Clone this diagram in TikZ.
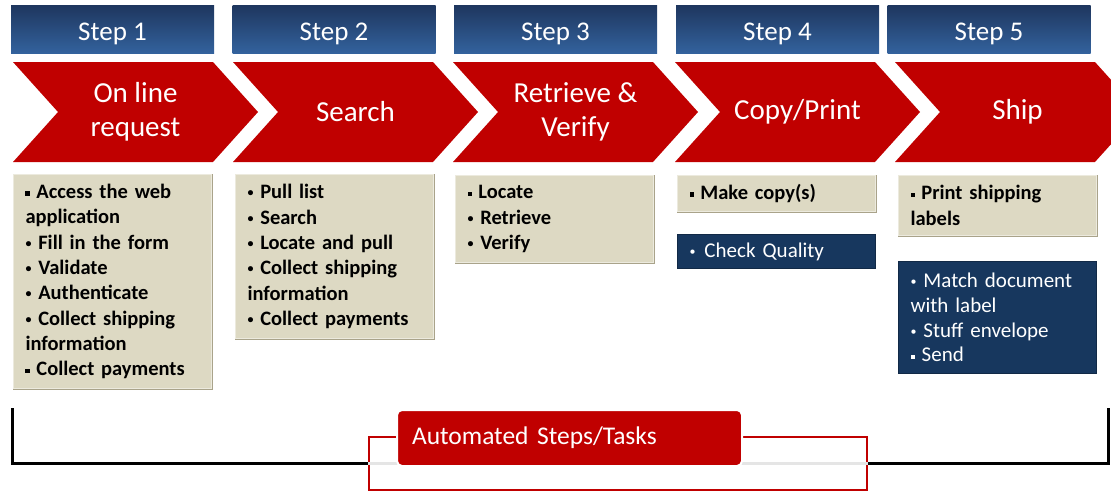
\documentclass[tikz,border=0pt]{standalone}
\usepackage{fontspec}
\setmainfont{Carlito}
\usetikzlibrary{shapes.symbols,positioning}
\definecolor{stepred}{HTML}{C00000}
\definecolor{headtop}{HTML}{1E365E}
\definecolor{headbot}{HTML}{33629D}
\definecolor{taskbeige}{HTML}{DDD9C3}
\definecolor{beigeedge}{HTML}{A9A38A}
\definecolor{tasknavy}{HTML}{17375E}
\newcommand{\fs}[2]{\fontsize{#1}{#2}\selectfont}
\newcommand{\sqbul}{\raisebox{0.3ex}{\rule{0.2em}{0.2em}}}
\newcommand{\rdbul}{\raisebox{0.2ex}{\fs{12}{12}\textbullet}}

\begin{document}
\begin{tikzpicture}[x=1pt,y=-1pt,
    stephead/.style={minimum width=203pt,minimum height=48pt,inner sep=0pt,
        text height=22pt,text depth=0pt,
        top color=headtop,bottom color=headbot,text=white,font=\fs{27}{32}},
    chevron/.style={shape=signal,signal to=east,signal from=west,
        signal pointer angle=96,fill=stepred,minimum width=245pt,
        minimum height=100pt,inner sep=0pt,text=white,align=center,
        font=\fs{29}{34}},
    boxbase/.style={anchor=north west,text width=174pt,inner xsep=12pt,
        inner ysep=0pt,align=left},
    taskbox/.style={boxbase,fill=taskbeige,draw=taskbeige!55!white,line width=1pt,
        font=\bfseries\fs{20.5}{25.3},
        append after command={\pgfextra{\draw[beigeedge,line width=2.5pt]
            (\tikzlastnode.south west) -- (\tikzlastnode.south east)
            -- (\tikzlastnode.north east);}}},
    navybox/.style={boxbase,fill=tasknavy,draw=tasknavy!75!black,line width=1pt,
        text=white,font=\fs{21}{24.8}},
    bracket/.style={draw=black,line width=3pt},
    autoframe/.style={draw=stepred,line width=2.5pt,minimum width=498pt,
        minimum height=53pt,inner sep=0pt},
    autobox/.style={fill=stepred,draw=white,line width=2pt,rounded corners=5pt,
        minimum width=345pt,minimum height=56pt,text width=315pt,
        inner xsep=15pt,align=left,text=white,font=\fs{25.5}{30}}]
    \useasboundingbox (0,0) rectangle (1111,493);

    % step headers
    \node[stephead] (hd1) at (112.5,29) {Step 1};
    \node[stephead] (hd2) at (334,29) {Step 2};
    \node[stephead] (hd3) at (555.5,29) {Step 3};
    \node[stephead] (hd4) at (777.5,29) {Step 4};
    \node[stephead] (hd5) at (989,29) {Step 5};

    % process arrows
    \node[chevron] (ch1) at (135.5,112) {On line\\request};
    \node[chevron] (ch2) at (355.5,112) {Search};
    \node[chevron] (ch3) at (575.5,112) {Retrieve \&\\Verify};
    \node[chevron] (ch4) at (797.5,112) {Copy/Print};
    \node[chevron] (ch5) at (1017.5,112) {Ship};

    % tasks
    \node[taskbox,minimum height=214pt] (tk1) at (13,174)
        {\sqbul{} Access the web\\application\\\rdbul{} Fill in the form\\
         \rdbul{} Validate\\\rdbul{} Authenticate\\
         \rdbul{} Collect shipping\\information\\\sqbul{} Collect payments};
    \node[taskbox,minimum height=164pt] (tk2) at (235,174)
        {\rdbul{} Pull list\\\rdbul{} Search\\\rdbul{} Locate and pull\\
         \rdbul{} Collect shipping\\information\\\rdbul{} Collect payments};
    \node[taskbox,minimum height=87pt] (tk3) at (455,175)
        {\sqbul{} Locate\\\rdbul{} Retrieve\\\rdbul{} Verify};
    \node[taskbox,minimum height=36pt] (tk4) at (677,175) {\sqbul{} Make copy(s)};
    \node[navybox,minimum height=34pt,below=22pt of tk4.south west,anchor=north west] (mn4)
        {\rdbul\hspace{9pt}Check Quality};
    \node[taskbox,minimum height=60pt] (tk5) at (898,175)
        {\sqbul{} Print shipping\\labels};
    \node[navybox,minimum height=112pt,below=25pt of tk5.south west,anchor=north west] (mn5)
        {\rdbul{} Match document\\with label\\\rdbul{} Stuff envelope\\\sqbul{} Send};

    % automated steps
    \node[autoframe] (frame) at (618,463.5) {};
    \draw[gray!20,line width=3pt] (frame.west) -- (frame.east);
    \coordinate (bl) at (12,408);
    \coordinate (br) at (1108,408);
    \draw[bracket] (bl) |- (frame.west);
    \draw[bracket] (br) |- (frame.east);
    \node[autobox] (auto) at (569.5,438) {Automated Steps/Tasks};
\end{tikzpicture}
\end{document}
